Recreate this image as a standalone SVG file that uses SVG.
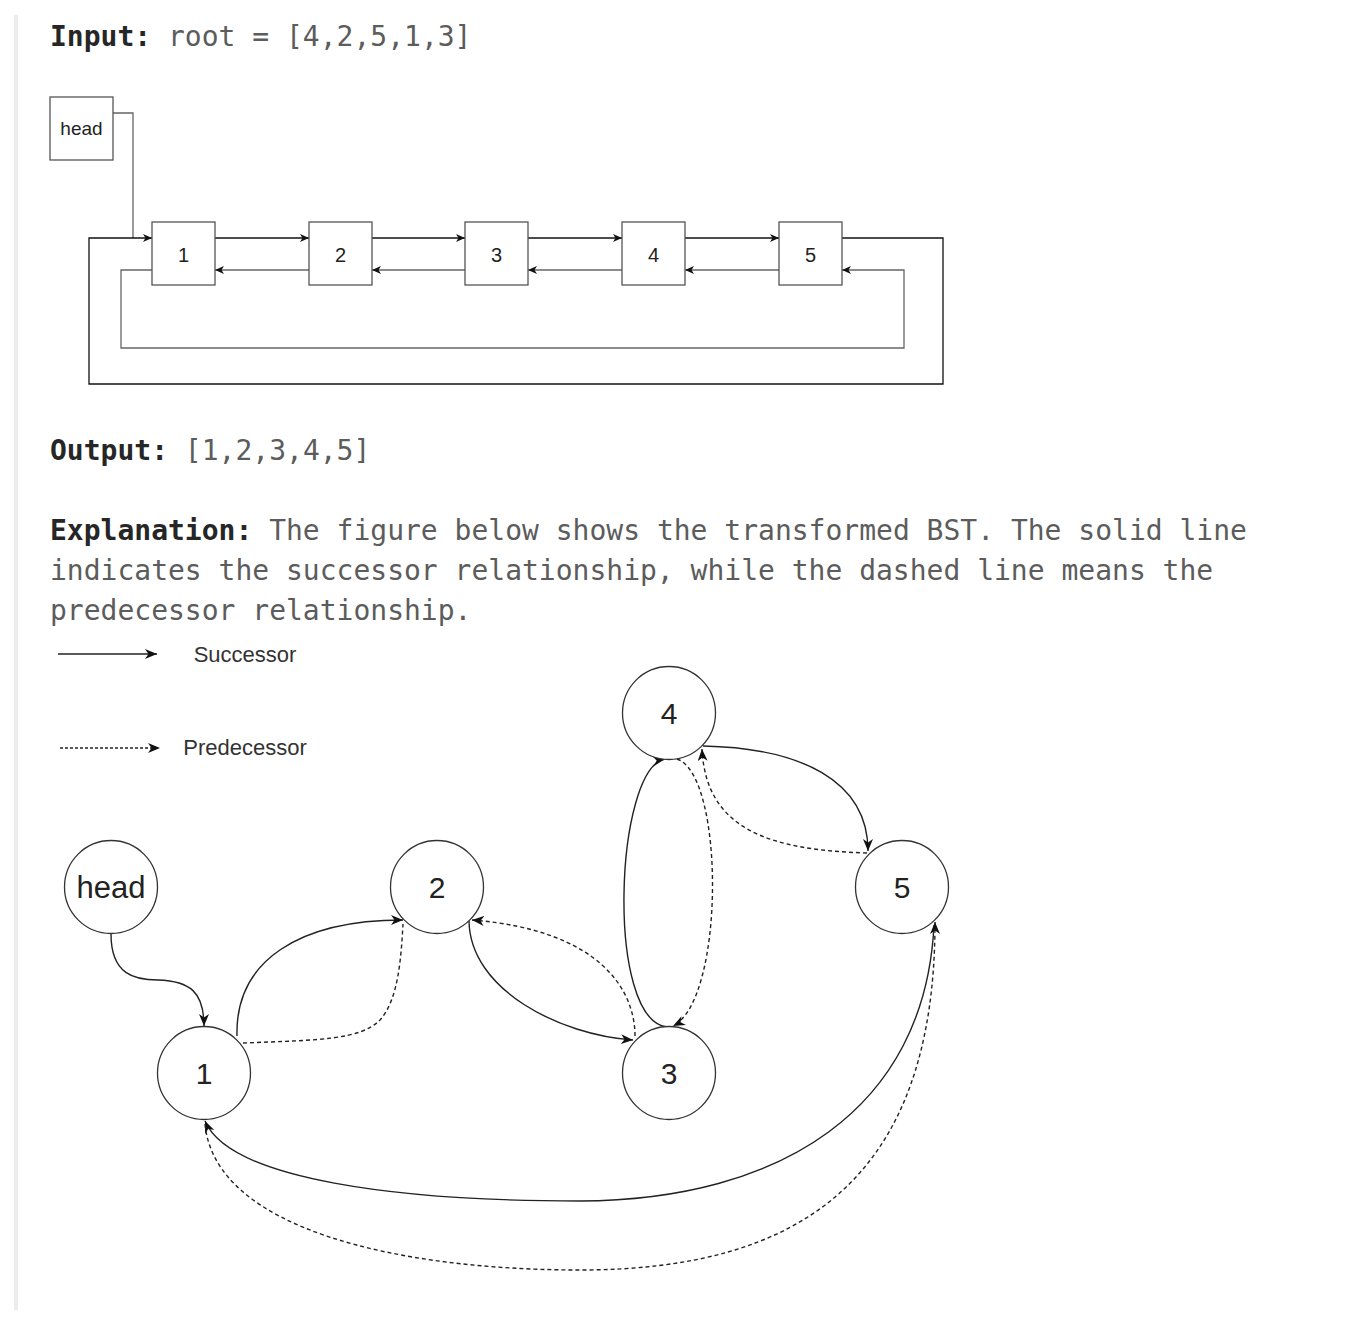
<svg xmlns="http://www.w3.org/2000/svg" width="1370" height="1328" viewBox="0 0 1370 1328">
<defs>
<marker id="aS" markerUnits="userSpaceOnUse" markerWidth="9" markerHeight="8" refX="9" refY="4" orient="auto"><path d="M0,0 L9,4 L0,8 L2.5,4 z" fill="#111"/></marker>
<marker id="aL" markerUnits="userSpaceOnUse" markerWidth="13" markerHeight="11" refX="12" refY="5" orient="auto"><path d="M0,0 L12,5 L0,10 L3.5,5 z" fill="#111"/></marker>
</defs>
<style>
.mono{font-family:"DejaVu Sans Mono","Liberation Mono",monospace;font-size:28px}
.b{font-weight:bold;fill:#262626}
.g{fill:#5c5c5c}
.box{fill:#fff;stroke:#555;stroke-width:1.3}
.lbl{font-family:"Liberation Sans",Arial,sans-serif;fill:#222;text-anchor:middle}
.fw{fill:none;stroke:#111;stroke-width:1.3}
.bw{fill:none;stroke:#666;stroke-width:1.3}
.circ{fill:#fff;stroke:#333;stroke-width:1.3}
.s{fill:none;stroke:#222;stroke-width:1.4}
.d{fill:none;stroke:#222;stroke-width:1.4;stroke-dasharray:4 3}
.leg{font-family:"Liberation Sans",Arial,sans-serif;font-size:22px;fill:#333;text-anchor:middle}
</style>
<rect x="14" y="15" width="4" height="1295" fill="#ececec"/>
<g id="texts">
<text x="50" y="46" class="mono"><tspan class="b">Input:</tspan><tspan class="g"> root = [4,2,5,1,3]</tspan></text>
<text x="50" y="460" class="mono"><tspan class="b">Output:</tspan><tspan class="g"> [1,2,3,4,5]</tspan></text>
<text x="50" y="540" class="mono"><tspan class="b">Explanation:</tspan><tspan class="g"> The figure below shows the transformed BST. The solid line</tspan></text>
<text x="50" y="580" class="mono g">indicates the successor relationship, while the dashed line means the</text>
<text x="50" y="620" class="mono g">predecessor relationship.</text>
</g>
<g id="list-connectors">
<path class="bw" d="M113,113 H133 V238"/>
<path class="fw" d="M842,238 H943 V384 H89 V238 H152" marker-end="url(#aS)"/>
<path class="bw" d="M152,270 H121 V348 H904 V270 H842" marker-end="url(#aS)"/>
<path class="fw" d="M215,238 H309" marker-end="url(#aS)"/>
<path class="fw" d="M372,238 H465" marker-end="url(#aS)"/>
<path class="fw" d="M528,238 H622" marker-end="url(#aS)"/>
<path class="fw" d="M685,238 H779" marker-end="url(#aS)"/>
<path class="bw" d="M309,270 H215" marker-end="url(#aS)"/>
<path class="bw" d="M465,270 H372" marker-end="url(#aS)"/>
<path class="bw" d="M622,270 H528" marker-end="url(#aS)"/>
<path class="bw" d="M779,270 H685" marker-end="url(#aS)"/>
</g>
<g id="list-head"><rect class="box" x="50" y="97" width="63" height="63"/><text class="lbl" x="81.5" y="135" font-size="19">head</text></g>
<g id="list-1"><rect class="box" x="152" y="222" width="63" height="63"/><text class="lbl" x="183.5" y="262" font-size="20">1</text></g>
<g id="list-2"><rect class="box" x="309" y="222" width="63" height="63"/><text class="lbl" x="340.5" y="262" font-size="20">2</text></g>
<g id="list-3"><rect class="box" x="465" y="222" width="63" height="63"/><text class="lbl" x="496.5" y="262" font-size="20">3</text></g>
<g id="list-4"><rect class="box" x="622" y="222" width="63" height="63"/><text class="lbl" x="653.5" y="262" font-size="20">4</text></g>
<g id="list-5"><rect class="box" x="779" y="222" width="63" height="63"/><text class="lbl" x="810.5" y="262" font-size="20">5</text></g>
<g id="legend">
<path class="s" d="M58,654 H157" marker-end="url(#aL)"/>
<text class="leg" x="245" y="662">Successor</text>
<path class="s" d="M60,748 H160" stroke-dasharray="3 2" marker-end="url(#aL)"/>
<text class="leg" x="245" y="755">Predecessor</text>
</g>
<g id="graph-connectors">
<path class="s" d="M111,934 C111,975 135,980 158,980 C190,981 204,992 204,1026" marker-end="url(#aL)"/>
<path class="s" d="M237,1036 C235,960 300,920 403,920" marker-end="url(#aL)"/>
<path class="d" d="M243,1043 C320,1040 360,1040 380,1020 C398,1000 401,960 403,924"/>
<path class="s" d="M469,921 C470,990 560,1035 633,1040" marker-end="url(#aL)"/>
<path class="d" d="M635,1036 C635,990 600,930 472,920" marker-end="url(#aL)"/>
<path class="s" d="M667,1027 C605,1020 615,768 665,759" marker-end="url(#aL)"/>
<path class="d" d="M677,759 C725,775 725,1000 673,1026" marker-end="url(#aL)"/>
<path class="s" d="M703,746 C800,748 868,780 868,851" marker-end="url(#aL)"/>
<path class="d" d="M867,853 C770,850 706,830 702,749" marker-end="url(#aL)"/>
<path class="s" d="M934,925 C925,1110 780,1200 580,1201 C400,1201 230,1180 205,1121" marker-end="url(#aL)"/>
<path class="d" d="M205,1124 C215,1230 400,1270 580,1270 C800,1270 935,1180 935,922" stroke-dasharray="3 2" marker-end="url(#aL)"/>
</g>
<g id="node-head"><circle class="circ" cx="111" cy="887" r="46.5"/><text class="lbl" x="111" y="898" font-size="31">head</text></g>
<g id="node-1"><circle class="circ" cx="204" cy="1073" r="46.5"/><text class="lbl" x="204" y="1084" font-size="30">1</text></g>
<g id="node-2"><circle class="circ" cx="437" cy="887" r="46.5"/><text class="lbl" x="437" y="898" font-size="30">2</text></g>
<g id="node-3"><circle class="circ" cx="669" cy="1073" r="46.5"/><text class="lbl" x="669" y="1084" font-size="30">3</text></g>
<g id="node-4"><circle class="circ" cx="669" cy="713" r="46.5"/><text class="lbl" x="669" y="724" font-size="30">4</text></g>
<g id="node-5"><circle class="circ" cx="902" cy="887" r="46.5"/><text class="lbl" x="902" y="898" font-size="30">5</text></g>
</svg>
